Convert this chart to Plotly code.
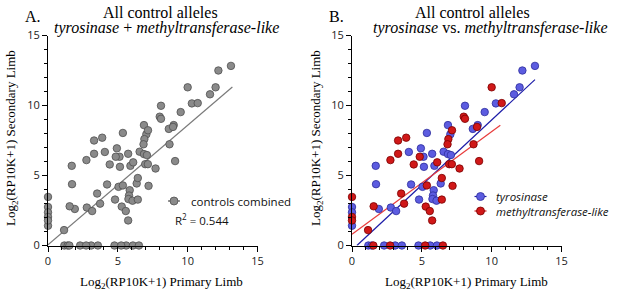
import plotly.graph_objects as go

# ---------------- data ----------------
tyr_x = [13.1, 12.2, 12.0, 11.6, 10.3, 9.5, 8.09, 8.65, 9.0, 6.87, 7.04, 5.36, 4.93, 4.07,
         5.74, 6.56, 6.87, 7.08, 5.12, 1.7, 5.15, 5.9, 1.72, 4.23, 5.05, 6.35, 5.85, 5.8,
         5.76, 4.8, 6.05, 1.92, 2.78, 3.16,
         0, 0, 0,
         1.17, 1.41, 2.3, 3.09, 3.57, 4.76, 5.6, 6.08]
tyr_y = [12.83, 12.5, 11.3, 10.8, 10.15, 9.53, 9.98, 8.33, 8.6, 8.6, 7.94, 8.04, 6.94, 6.68,
         6.55, 6.7, 6.53, 6.46, 6.34, 5.69, 5.62, 5.69, 4.38, 4.36, 4.19, 4.43, 3.95, 3.57,
         3.32, 3.28, 3.2, 2.61, 2.71, 2.46,
         2.75, 2.37, 1.41,
         0, 0, 0, 0, 0, 0, 0, 0]

mtl_x = [10.0, 10.72, 8.0, 8.09, 8.95, 8.7, 7.16, 6.9, 6.84, 3.88, 3.3, 3.3, 2.75, 4.85,
         4.42, 6.1, 6.96, 7.15, 7.7, 9.1, 5.36, 6.43, 7.2, 3.52, 6.43, 3.73, 1.55, 5.28,
         5.57, 5.74, 1.15,
         0, 0, 0,
         1.53, 2.73, 5.24, 6.51]
mtl_y = [11.3, 10.17, 9.2, 9.05, 8.47, 7.23, 8.23, 7.6, 7.23, 7.7, 7.5, 6.55, 6.1, 6.34,
         5.79, 5.94, 5.81, 5.81, 5.5, 6.03, 4.29, 4.82, 4.26, 3.71, 3.28, 2.99, 2.8, 2.78,
         2.46, 1.79, 1.1,
         3.47, 2.04, 1.79,
         0, 0, 0, 0]

# regression line end points
fit_all_x = [0, 13.2]
fit_all_y = [0.05, 11.32]
fit_tyr_x = [0.35, 13.1]
fit_tyr_y = [0, 11.85]
fit_mtl_x = [0, 10.62]
fit_mtl_y = [0.8, 8.59]

tick_vals = [0, 5, 10, 15]
tick_text = ["0", "5", "10", "15"]

all_x = tyr_x + mtl_x
all_y = tyr_y + mtl_y

# ---------------- figure ----------------
W, H = 617, 298
def px(x):
    return x / W
def py(y):
    return 1 - y / H

SERIF = "Liberation Serif"
SANS = "Open Sans"

GRAY_FILL, GRAY_LINE = "#8a8a8a", "#4f4f4f"
BLUE_FILL, BLUE_LINE = "#5c5ce0", "#2d2d9c"
RED_FILL, RED_LINE = "#d01818", "#7a0000"

fig = go.Figure()

# panel A
fig.add_trace(go.Scatter(x=fit_all_x, y=fit_all_y, mode="lines",
                         line=dict(color="#7a7a7a", width=1.2), xaxis="x", yaxis="y",
                         showlegend=False, hoverinfo="skip"))
fig.add_trace(go.Scatter(x=all_x, y=all_y, mode="markers", xaxis="x", yaxis="y",
                         marker=dict(size=7.5, color=GRAY_FILL, line=dict(color=GRAY_LINE, width=0.8)),
                         cliponaxis=False, showlegend=False))

# panel B
fig.add_trace(go.Scatter(x=fit_tyr_x, y=fit_tyr_y, mode="lines",
                         line=dict(color="#1c1ca8", width=1.2), xaxis="x2", yaxis="y2",
                         showlegend=False, hoverinfo="skip"))
fig.add_trace(go.Scatter(x=fit_mtl_x, y=fit_mtl_y, mode="lines",
                         line=dict(color="#e83c3c", width=1.2), xaxis="x2", yaxis="y2",
                         showlegend=False, hoverinfo="skip"))
fig.add_trace(go.Scatter(x=tyr_x, y=tyr_y, mode="markers", xaxis="x2", yaxis="y2",
                         marker=dict(size=7.5, color=BLUE_FILL, line=dict(color=BLUE_LINE, width=0.8)),
                         cliponaxis=False, showlegend=False))
fig.add_trace(go.Scatter(x=mtl_x, y=mtl_y, mode="markers", xaxis="x2", yaxis="y2",
                         marker=dict(size=7.5, color=RED_FILL, line=dict(color=RED_LINE, width=0.8)),
                         cliponaxis=False, showlegend=False))

axis_common = dict(range=[0, 15], showline=True, linecolor="black", linewidth=1,
                   ticks="outside", ticklen=5, tickcolor="black", tickwidth=1,
                   tickvals=tick_vals, ticktext=tick_text, automargin=False,
                   minor=dict(ticks="outside", ticklen=3, dtick=1, tickcolor="black", tickwidth=1),
                   showgrid=False, zeroline=False,
                   tickfont=dict(family=SANS, size=11, color="#222"))

ydom = [py(245.5), py(35.5)]
fig.update_layout(
    template="none",
    width=W, height=H, margin=dict(l=0, r=0, t=0, b=0, pad=0, autoexpand=False),
    paper_bgcolor="white", plot_bgcolor="white", showlegend=False,
    xaxis=dict(domain=[px(48), px(257.5)], anchor="y", **axis_common),
    yaxis=dict(domain=ydom, anchor="x", **axis_common),
    xaxis2=dict(domain=[px(352), px(561.5)], anchor="y2", **axis_common),
    yaxis2=dict(domain=ydom, anchor="x2", **axis_common),
)

ann = []
def text(x, y, t, size, family, xanchor="center", textangle=0, color="black"):
    ann.append(dict(x=px(x), y=py(y), xref="paper", yref="paper", text=t, showarrow=False,
                    xanchor=xanchor, yanchor="middle", textangle=textangle,
                    font=dict(family=family, size=size, color=color)))

# titles
text(23, 16, "A.", 16, SERIF, xanchor="left")
text(160, 12.5, "All control alleles", 16, SERIF)
text(166, 27.5, "<i>tyrosinase</i> + <i>methyltransferase-like</i>", 16, SERIF)
text(327, 16, "B.", 16, SERIF, xanchor="left")
text(472, 12.5, "All control alleles", 16, SERIF)
text(490, 27.5, "<i>tyrosinase</i> vs. <i>methyltransferase-like</i>", 16, SERIF)

# axis titles
xt = "Log<sub>2</sub>(RP10K+1) Primary Limb"
yt = "Log<sub>2</sub>(RP10K+1) Secondary Limb"
text(162, 282, xt, 13, SERIF)
text(466, 282, xt, 13, SERIF)
text(11, 138, yt, 13, SERIF, textangle=-90)
text(316, 138, yt, 13, SERIF, textangle=-90)

# legends
text(189, 201, "controls combined", 11.5, SANS, xanchor="left", color="#111")
text(173, 219, "R<sup>2</sup> = 0.544", 11.5, SANS, xanchor="left", color="#111")
text(494, 196.5, "<i>tyrosinase</i>", 11.5, SANS, xanchor="left", color="#111")
text(494, 211, "<i>methyltransferase-like</i>", 11.5, SANS, xanchor="left", color="#111")
fig.update_layout(annotations=ann)

shapes = []
def glyph(cx, cy, fill, edge, linecol):
    shapes.append(dict(type="line", xref="paper", yref="paper",
                       x0=px(cx - 6), x1=px(cx + 6), y0=py(cy), y1=py(cy),
                       line=dict(color=linecol, width=1.2)))
    shapes.append(dict(type="circle", xref="paper", yref="paper",
                       xsizemode="pixel", ysizemode="pixel",
                       xanchor=px(cx), yanchor=py(cy), x0=-4, x1=4, y0=-4, y1=4,
                       fillcolor=fill, line=dict(color=edge, width=0.8)))

glyph(174, 201, GRAY_FILL, GRAY_LINE, "#555")
glyph(480.5, 196.5, BLUE_FILL, BLUE_LINE, "#1c1ca8")
glyph(480.5, 211, RED_FILL, RED_LINE, "#d01818")
fig.update_layout(shapes=shapes)

fig.write_html("out.html", config={"displayModeBar": False},
               post_script="document.body.style.margin='0';document.body.style.padding='0';")
